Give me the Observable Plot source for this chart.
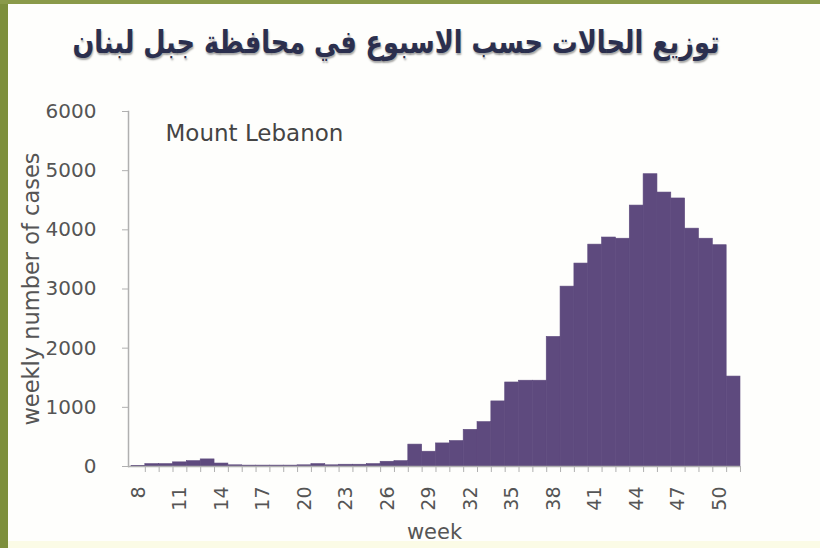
<!DOCTYPE html>
<html>
<head>
<meta charset="utf-8">
<script src="https://cdn.jsdelivr.net/npm/d3@7"></script>
<script src="https://cdn.jsdelivr.net/npm/@observablehq/plot@0.6"></script>
<style>
  html, body { margin: 0; padding: 0; background: #ffffff; }
  #wrap { position: relative; width: 820px; height: 548px; overflow: hidden; background: #fefefc; }
  #borderLeft { position: absolute; left: 0; top: 0; width: 8px; height: 548px; background: #7d8f3c; }
  #borderTop { position: absolute; left: 0; top: 0; width: 820px; height: 4px; background: #8a9a4a; }
  #bottomStrip { position: absolute; left: 8px; top: 541px; width: 812px; height: 7px; background: #fbfbe6; }
  #title { position: absolute; left: 0; top: 23px; width: 820px; text-align: center; direction: rtl;
           font-family: "DejaVu Sans", sans-serif; font-weight: bold; font-size: 32px; color: #2b2f4e;
           text-shadow: 1px 2px 2px rgba(0,0,0,0.35); transform: translateX(-14px) scaleX(0.8); transform-origin: 50% 50%; }
  #ylab { position: absolute; left: 31px; top: 289px; width: 0; height: 0; }
  #ylab span { position: absolute; left: 0; top: 0; white-space: nowrap; transform: translate(-50%, -50%) rotate(-90deg);
               font-family: "DejaVu Sans", sans-serif; font-size: 22.5px; color: #555; }
  #chart { position: absolute; left: 0; top: 0; }
</style>
</head>
<body>
<div id="wrap">
  <div id="chart"></div>
  <div id="bottomStrip"></div>
  <div id="borderLeft"></div>
  <div id="borderTop"></div>
  <div id="title"></div>
  <div id="ylab"><span></span></div>
</div>
<script>
const titleText = "توزيع الحالات حسب الاسبوع في محافظة جبل لبنان";
const weeks = [8,9,10,11,12,13,14,15,16,17,18,19,20,21,22,23,24,25,26,27,28,29,30,31,32,33,34,35,36,37,38,39,40,41,42,43,44,45,46,47,48,49,50,51];
const cases = [10,40,40,70,90,120,50,20,15,15,15,15,20,40,20,30,30,40,80,90,370,250,390,430,620,750,1100,1420,1450,1450,2190,3040,3430,3750,3870,3850,4410,4940,4630,4530,4020,3850,3740,1520];
const xTickLabels = [8,11,14,17,20,23,26,29,32,35,38,41,44,47,50];
const yTicks = [0,1000,2000,3000,4000,5000,6000];
const panelLabel = "Mount Lebanon";
const xLabel = "week";
const yLabel = "weekly number of cases";

document.getElementById("title").textContent = titleText;
document.querySelector("#ylab span").textContent = yLabel;

const data = weeks.map((w, i) => ({week: w, cases: cases[i]}));
const font = "DejaVu Sans, sans-serif";
const barColor = "#5e4a7e";

const chart = Plot.plot({
  width: 820,
  height: 548,
  marginLeft: 128,
  marginRight: 80,
  marginTop: 111,
  marginBottom: 82,
  style: {background: "transparent", fontFamily: font},
  x: {type: "band", domain: weeks, padding: 0, insetLeft: 3},
  y: {domain: [0, 6000]},
  marks: [
    Plot.barY(data, {x: "week", y: "cases", fill: barColor, stroke: barColor, strokeWidth: 0.6, inset: 0}),
    Plot.ruleY([0], {stroke: "#b0b0b0", strokeWidth: 1.5}),
    Plot.frame({anchor: "left", stroke: "#b0b0b0", strokeWidth: 1.5}),
    Plot.axisY({
      ticks: yTicks, tickSize: 6, tickPadding: 26, stroke: "#b0b0b0",
      fontSize: 20, color: "#555", label: null, tickFormat: d => String(d)
    }),
    Plot.axisX({
      ticks: weeks, tickSize: 6, stroke: "#b0b0b0", dx: 6.9, text: null, label: null
    }),
    Plot.axisX({
      ticks: xTickLabels, tickSize: 0, tickPadding: 20, tickRotate: -90,
      fontSize: 19, color: "#555", label: null, tickFormat: d => String(d)
    }),
    Plot.text([panelLabel], {frameAnchor: "top-left", lineAnchor: "middle", dx: 37, dy: 22, text: d => d,
      fontSize: 23, fill: "#444", textAnchor: "start"}),
    Plot.text([xLabel], {frameAnchor: "bottom", lineAnchor: "middle", dy: 66, text: d => d,
      fontSize: 21, fill: "#555"})
  ]
});
document.getElementById("chart").appendChild(chart);
</script>
</body>
</html>
